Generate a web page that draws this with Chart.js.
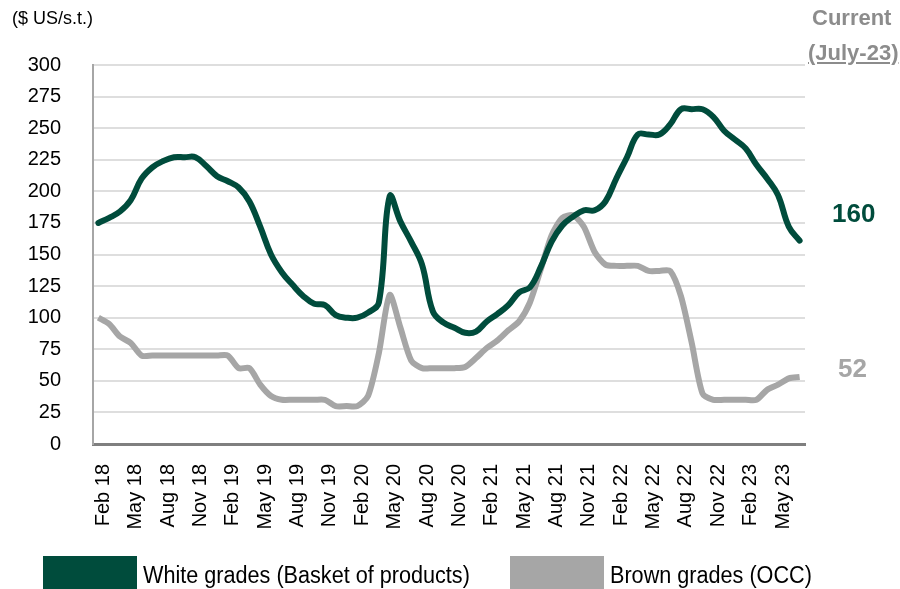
<!DOCTYPE html>
<html>
<head>
<meta charset="utf-8">
<script src="https://cdn.jsdelivr.net/npm/chart.js@4.4.0/dist/chart.umd.min.js"></script>
<style>
    body { margin: 0; background: #fff; }
    #wrap { position: relative; width: 900px; height: 589px; overflow: hidden; font-family: 'Liberation Sans', Arial, sans-serif; }
    #chartCanvas { position: absolute; left: 0; top: 0; }
    .note { position: absolute; white-space: nowrap; }
    .legend-box { position: absolute; width: 94px; height: 36px; }
    .legend-text { position: absolute; font-size: 23px; color: #000; white-space: nowrap; transform: scaleX(0.94); transform-origin: left top; }
</style>
</head>
<body>
<div id="wrap">
    <canvas id="chartCanvas" width="900" height="589"></canvas>
    <div class="note" style="left:12px; top:8px; font-size:18px; color:#000;">($ US/s.t.)</div>
    <div class="note" style="left:812px; top:5px; font-size:22px; font-weight:bold; color:#8c8c8c;">Current</div>
    <div class="note" style="left:808px; top:40px; font-size:22px; font-weight:bold; color:#8c8c8c; text-decoration:underline;">(July-23)</div>
    <div class="note" id="lastWhite" style="left:832px; top:198px; font-size:26px; font-weight:bold; color:#004c3c;"></div>
    <div class="note" id="lastBrown" style="left:838px; top:353px; font-size:26px; font-weight:bold; color:#a6a6a6;"></div>
    <div class="legend-box" style="left:43px; top:556px; background:#004c3c;"></div>
    <div class="legend-text" style="left:143px; top:562px;">White grades (Basket of products)</div>
    <div class="legend-box" style="left:510px; top:556px; background:#a6a6a6;"></div>
    <div class="legend-text" style="left:610px; top:562px;">Brown grades (OCC)</div>
</div>
<script>
// monthly, Feb 18 .. Jul 23
const monthNames = ["Jan", "Feb", "Mar", "Apr", "May", "Jun", "Jul", "Aug", "Sep", "Oct", "Nov", "Dec"];
const months = [];
for (let i = 0; i < 66; i++) {
    let m = (1 + i) % 12;
    let y = 18 + Math.floor((1 + i) / 12);
    months.push(monthNames[m] + " " + y);
}

const whiteGrades = [
    175, 179, 184, 193, 210, 219, 224, 227, 227, 227, 220, 212,
    208, 203, 192, 172, 150, 136, 126, 117, 111, 110, 102, 100,
    100, 104, 112, 196, 176, 160, 142, 105, 96, 92, 88, 89,
    97, 103, 110, 120, 124, 140, 160, 173, 180, 185, 185, 192,
    210, 227, 245, 245, 245, 253, 265, 265, 265, 259, 248, 241,
    234, 221, 210, 197, 172, 161
];

const brownGrades = [
    100, 95, 85, 80, 70, 70, 70, 70, 70, 70, 70, 70,
    70, 60, 60, 47, 38, 35, 35, 35, 35, 35, 30, 30,
    30, 38, 72, 118, 92, 66, 60, 60, 60, 60, 61, 68,
    76, 82, 90, 97, 112, 138, 165, 179, 181, 172, 152, 142,
    141, 141, 141, 137, 137, 137, 117, 80, 40, 35, 35, 35,
    35, 35, 43, 47, 52, 53
];

const yTicks = [0, 25, 50, 75, 100, 125, 150, 175, 200, 225, 250, 275, 300];

const fontFam = "'Liberation Sans', Arial, sans-serif";

document.querySelector('#lastWhite').innerText = 160;
document.querySelector('#lastBrown').innerText = 52;

const ctx = document.querySelector('#chartCanvas').getContext('2d');
const chart = new Chart(ctx, {
    type: 'line',
    data: {
        labels: months,
        datasets: [
            {
                label: 'White grades (Basket of products)',
                data: whiteGrades,
                borderColor: '#004c3c',
                borderWidth: 6,
                pointRadius: 0,
                tension: 0.4,
                borderCapStyle: 'round',
                borderJoinStyle: 'round'
            },
            {
                label: 'Brown grades (OCC)',
                data: brownGrades,
                borderColor: '#a6a6a6',
                borderWidth: 6,
                pointRadius: 0,
                tension: 0.25,
                borderJoinStyle: 'round'
            }
        ]
    },
    options: {
        responsive: false,
        animation: false,
        layout: { padding: { top: 65, right: 95, left: 0, bottom: 0 } },
        plugins: {
            legend: { display: false },
            tooltip: { enabled: false }
        },
        scales: {
            x: {
                offset: true,
                grid: { display: false, drawTicks: false },
                border: { display: true, color: '#7f7f7f', width: 3 },
                ticks: {
                    autoSkip: false,
                    maxRotation: 90,
                    minRotation: 90,
                    padding: 20,
                    labelOffset: 5,
                    color: '#000',
                    font: { family: fontFam, size: 20 },
                    callback: function (val, idx) {
                        return idx % 3 === 0 ? months[idx] : '';
                    }
                },
                afterFit: function (scale) { scale.height = 145; }
            },
            y: {
                min: 0,
                max: 300,
                afterBuildTicks: function (scale) {
                    scale.ticks = yTicks.map(v => ({ value: v }));
                },
                grid: { color: '#dedede', lineWidth: 2, drawTicks: false },
                border: { display: true, color: '#a6a6a6', width: 2 },
                ticks: {
                    padding: 32,
                    color: '#000',
                    font: { family: fontFam, size: 20 }
                },
                afterFit: function (scale) { scale.width = 93; }
            }
        }
    }
});
</script>
</body>
</html>
